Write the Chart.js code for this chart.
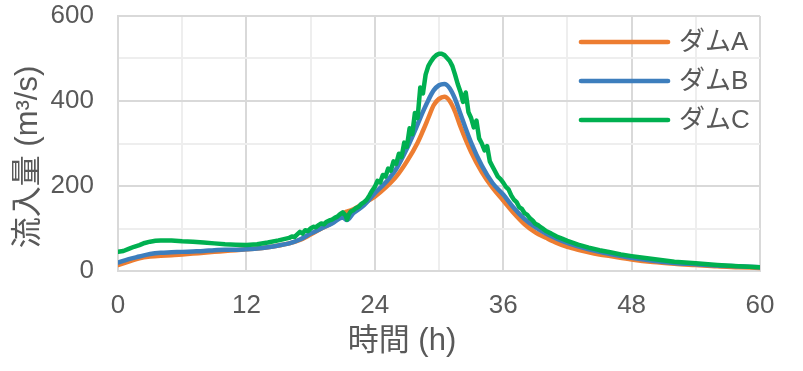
<!DOCTYPE html>
<html>
<head>
<meta charset="utf-8">
<script src="https://cdn.jsdelivr.net/npm/chart.js@4"></script>
<style>
  body { margin: 0; background: #ffffff; }
  canvas { display: block; }
</style>
</head>
<body>
<canvas id="inflowChart" width="803" height="371"></canvas>
<script>
// ---- data ----
const seriesNames = ['ダムA', 'ダムB', 'ダムC'];
const seriesColors = ['#ED7D31', '#3D7EBD', '#00B050'];

const hoursAB = [0, 1, 2, 3, 4, 5, 6, 7, 8, 9, 10, 11, 12, 13, 14, 15, 16, 17, 18, 19, 20, 21, 21.4,
    22, 23, 24, 25, 26, 27, 28, 28.5, 29, 29.5, 30, 30.5, 31, 31.5, 32,
    33, 34, 35, 36, 37, 38, 39, 40, 41, 42, 43, 44, 45, 46, 48, 50, 52, 54, 56, 58, 60];

const damA = [14, 22, 30, 34, 36, 37, 39, 41, 43, 45, 47, 49, 51, 53, 56, 60, 65, 73, 86, 100, 113, 135, 140,
    145, 160, 175, 196, 222, 258, 302, 330, 360, 390, 405, 410, 400, 375, 340,
    280, 233, 196, 166, 136, 110, 91, 78, 66, 57, 50, 44, 39, 35, 27, 21, 17, 14, 11, 9, 7];

const damB = [20, 28, 34, 40, 43, 44, 45, 46, 47, 49, 50, 50, 51, 53, 56, 60, 65, 74, 88, 100, 112, 126, 120,
    136, 155, 183, 208, 240, 288, 345, 375, 402, 425, 437, 440, 430, 405, 370,
    302, 248, 207, 180, 148, 122, 103, 88, 76, 66, 58, 51, 45, 40, 31, 24, 19, 16, 13, 11, 9];

const hoursC = [0, 0.5, 1, 1.5, 2, 2.5, 3, 3.5, 4, 5, 6, 7, 8, 9, 10, 11, 12, 13, 14, 15, 16,
    16.25, 16.5, 16.75, 17, 17.25, 17.5, 17.75, 18, 18.25, 18.5, 18.75, 19, 19.25, 19.5, 19.75,
    20, 20.25, 20.5, 20.75, 21, 21.25, 21.4, 21.6, 21.75, 22, 22.25, 22.5, 22.75, 23, 23.25, 23.5, 23.75,
    24, 24.25, 24.5, 24.75, 25, 25.25, 25.5, 25.75, 26, 26.25, 26.5, 26.75, 27, 27.25, 27.5, 27.75,
    28, 28.25, 28.5, 28.75, 29, 29.25, 29.5, 29.75, 30, 30.25, 30.5, 30.75, 31, 31.25, 31.5, 31.75,
    32, 32.25, 32.5, 32.75, 33, 33.25, 33.5, 33.75, 34, 34.25, 34.5, 34.75, 35, 35.25, 35.5, 35.75,
    36, 36.25, 36.5, 36.75, 37, 37.25, 37.5, 37.75, 38, 38.25, 38.5, 38.75, 39, 39.25, 39.5, 39.75,
    40, 40.5, 41, 41.5, 42, 43, 44, 45, 46, 47, 48, 50, 52, 54, 56, 58, 60];

const damC = [45, 47, 52, 57, 61, 66, 69, 71, 72, 72, 70, 69, 67, 65, 63, 62, 61, 63, 67, 72, 78,
    81, 80, 86, 92, 88, 96, 94, 100, 104, 103, 108, 112, 110, 116, 119,
    121, 125, 128, 134, 138, 131, 121, 134, 140, 143, 148, 151, 158, 162, 168, 178, 189,
    198, 212, 208, 226, 222, 241, 236, 258, 252, 276, 268, 302, 292, 336, 322, 372,
    360, 432, 418, 462, 482, 493, 502, 508, 511, 511, 508, 501, 494, 482, 462, 440,
    422, 398, 420, 374, 360, 338, 354, 312, 300, 284, 294, 258, 246, 234, 222, 216,
    208, 198, 192, 178, 168, 162, 150, 146, 136, 132, 124, 119, 111, 108, 103, 99,
    94, 88, 81, 76, 71, 62, 55, 49, 44, 39, 35, 28, 22, 18, 14, 11, 9];

const xLabelStep = 12;
const yLabelStep = 200;

// ---- styling ----
const TEXT_COLOR = '#595959';
const FONT_FAMILY = '"Liberation Sans", Arial, "Noto Sans CJK JP", sans-serif';
const GRID_MAJOR = '#d9d9d9';
const GRID_MINOR = '#eeeeee';

function toPoints(xs, ys) {
    return xs.map((x, i) => ({ x: x, y: ys[i] }));
}

// Axis titles and the in-plot legend
const overlayPlugin = {
    id: 'overlay',
    afterDraw(chart) {
        const ctx = chart.ctx;
        ctx.save();
        ctx.fillStyle = TEXT_COLOR;

        // axis titles
        ctx.font = '31px ' + FONT_FAMILY;
        ctx.textAlign = 'center';
        ctx.textBaseline = 'middle';
        ctx.fillText('時間 (h)', 402, 341);
        ctx.translate(28, 157);
        ctx.rotate(-Math.PI / 2);
        ctx.fillText('流入量 (m³/s)', 0, 0);
        ctx.setTransform(1, 0, 0, 1, 0, 0);

        // legend
        const rowsY = [42, 81, 120];
        ctx.font = '26px ' + FONT_FAMILY;
        ctx.textAlign = 'left';
        chart.data.datasets.forEach((ds, i) => {
            ctx.strokeStyle = ds.borderColor;
            ctx.lineWidth = 4.7;
            ctx.lineCap = 'round';
            ctx.beginPath();
            ctx.moveTo(581, rowsY[i]);
            ctx.lineTo(668, rowsY[i]);
            ctx.stroke();
            ctx.fillText(ds.label, 679, rowsY[i] + 1);
        });
        ctx.restore();
    }
};

const lineDefaults = {
    borderWidth: 4.5,
    pointRadius: 0,
    pointHoverRadius: 0,
    fill: false,
    borderCapStyle: 'round',
    borderJoinStyle: 'round'
};

new Chart(document.getElementById('inflowChart'), {
    type: 'line',
    data: {
        datasets: [
            Object.assign({}, lineDefaults, {
                label: seriesNames[0],
                data: toPoints(hoursAB, damA),
                borderColor: seriesColors[0],
                cubicInterpolationMode: 'monotone',
                order: 3
            }),
            Object.assign({}, lineDefaults, {
                label: seriesNames[1],
                data: toPoints(hoursAB, damB),
                borderColor: seriesColors[1],
                cubicInterpolationMode: 'monotone',
                order: 2
            }),
            Object.assign({}, lineDefaults, {
                label: seriesNames[2],
                data: toPoints(hoursC, damC),
                borderColor: seriesColors[2],
                tension: 0,
                order: 1
            })
        ]
    },
    options: {
        responsive: false,
        animation: false,
        layout: {
            padding: { left: 0, right: 43, top: 16, bottom: 0 }
        },
        plugins: {
            legend: { display: false },
            tooltip: { enabled: false }
        },
        scales: {
            x: {
                type: 'linear',
                min: 0,
                max: 60,
                afterFit(scale) {
                    scale.height = 100;
                    scale.paddingLeft = 0;
                    scale.paddingRight = 0;
                },
                border: { display: true, color: GRID_MAJOR, width: 2 },
                grid: {
                    drawTicks: false,
                    lineWidth: 2,
                    color: (c) => (c.tick && c.tick.value % xLabelStep === 0) ? GRID_MAJOR : GRID_MINOR
                },
                ticks: {
                    stepSize: 6,
                    padding: 19,
                    maxRotation: 0,
                    autoSkip: false,
                    color: TEXT_COLOR,
                    font: { family: FONT_FAMILY, size: 26 },
                    callback: (v) => v % xLabelStep === 0 ? String(v) : ''
                }
            },
            y: {
                min: 0,
                max: 600,
                afterFit(scale) {
                    scale.width = 118;
                    scale.paddingTop = 0;
                    scale.paddingBottom = 0;
                },
                border: { display: true, color: GRID_MAJOR, width: 2 },
                grid: {
                    drawTicks: false,
                    lineWidth: 2,
                    color: (c) => (c.tick && c.tick.value % yLabelStep === 0) ? GRID_MAJOR : GRID_MINOR
                },
                ticks: {
                    stepSize: 100,
                    padding: 24,
                    color: TEXT_COLOR,
                    font: { family: FONT_FAMILY, size: 26 },
                    callback: (v) => v % yLabelStep === 0 ? String(v) : ''
                }
            }
        }
    },
    plugins: [overlayPlugin]
});
</script>
</body>
</html>
